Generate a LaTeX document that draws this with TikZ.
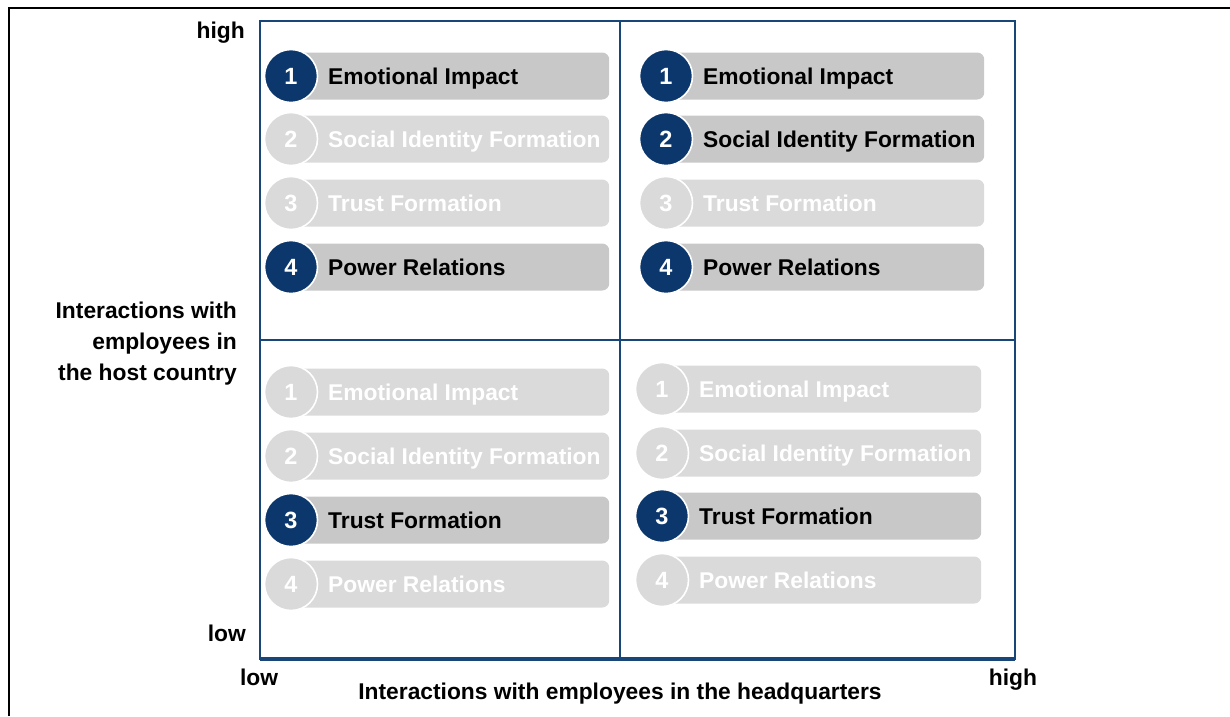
\documentclass[tikz,border=0pt]{standalone}
\usepackage{fontspec}
\setmainfont{Liberation Sans}
\begin{document}
\begin{tikzpicture}[x=1pt,y=-1pt,
  onbar/.style={fill=baron, draw=none, rounded corners=7pt, minimum height=47pt, inner sep=0pt, anchor=west},
  offbar/.style={fill=baroff, draw=none, rounded corners=7pt, minimum height=47pt, inner sep=0pt, anchor=west},
  onnum/.style={circle, fill=badge, draw=white, line width=1.6pt, minimum size=53pt, inner sep=0pt, text=white, font=\fontsize{23.5}{26}\selectfont\bfseries},
  offnum/.style={circle, fill=baroff, draw=white, line width=1.6pt, minimum size=53pt, inner sep=0pt, text=white, font=\fontsize{23.5}{26}\selectfont\bfseries},
  ontext/.style={anchor=base west, inner sep=0pt, text=black, font=\fontsize{22.8}{26}\selectfont\bfseries},
  offtext/.style={anchor=base west, inner sep=0pt, text=white, font=\fontsize{22.8}{26}\selectfont\bfseries},
  axislabel/.style={inner sep=0pt, text=black, font=\fontsize{22.8}{31}\selectfont\bfseries},
  grid/.style={draw=gridblue, line width=2.2pt}
]
\definecolor{badge}{RGB}{12,55,108}
\definecolor{baron}{RGB}{200,200,200}
\definecolor{baroff}{RGB}{218,218,218}
\definecolor{gridblue}{RGB}{24,70,120}

% #1 name, #2 circle x, #3 row y, #4 bar right end, #5 number, #6 label, #7 on/off
\newcommand\entrybox[7]{%
  \node[#7bar, minimum width={(#4-#2)*1pt}] (bar#1) at (#2,#3) {};
  \node[#7num] (num#1) at (#2,#3) {#5};
  \node[#7text] (txt#1) at (#2+37,#3+8) {#6};
}

\useasboundingbox (0,0) rectangle (1230,716);

% outer frame (top and left edges)
\draw[black, line width=2pt] (8.5,716) -- (8.5,7.5) -- (1230,7.5);

% quadrant matrix
\draw[grid] (260,21) rectangle (1015,659);
\draw[grid, line width=3.2pt] (260,659) -- (1015,659);
\draw[grid] (620,21) -- (620,659);
\draw[grid] (260,340) -- (1015,340);

% top-left quadrant
\entrybox{a1}{291}{76}{609}{1}{Emotional Impact}{on}
\entrybox{a2}{291}{139}{609}{2}{Social Identity Formation}{off}
\entrybox{a3}{291}{203}{609}{3}{Trust Formation}{off}
\entrybox{a4}{291}{267}{609}{4}{Power Relations}{on}

% top-right quadrant
\entrybox{b1}{666}{76}{984}{1}{Emotional Impact}{on}
\entrybox{b2}{666}{139}{984}{2}{Social Identity Formation}{on}
\entrybox{b3}{666}{203}{984}{3}{Trust Formation}{off}
\entrybox{b4}{666}{267}{984}{4}{Power Relations}{on}

% bottom-left quadrant
\entrybox{c1}{291}{392}{609}{1}{Emotional Impact}{off}
\entrybox{c2}{291}{456}{609}{2}{Social Identity Formation}{off}
\entrybox{c3}{291}{520}{609}{3}{Trust Formation}{on}
\entrybox{c4}{291}{584}{609}{4}{Power Relations}{off}

% bottom-right quadrant
\entrybox{d1}{662}{389}{981}{1}{Emotional Impact}{off}
\entrybox{d2}{662}{453}{981}{2}{Social Identity Formation}{off}
\entrybox{d3}{662}{516}{981}{3}{Trust Formation}{on}
\entrybox{d4}{662}{580}{981}{4}{Power Relations}{off}

% axis labels
\node[axislabel, anchor=base east] (yhigh) at (245,38) {high};
\node[axislabel, anchor=base east] (ylow) at (246,641) {low};
\node[axislabel, anchor=east, align=right] (ytitle) at (237,344)
  {Interactions with\\employees in\\the host country};
\node[axislabel, anchor=base] (xlow) at (259,685) {low};
\node[axislabel, anchor=base] (xhigh) at (1013,685) {high};
\node[axislabel, anchor=base] (xtitle) at (620,699) {Interactions with employees in the headquarters};
\end{tikzpicture}
\end{document}
